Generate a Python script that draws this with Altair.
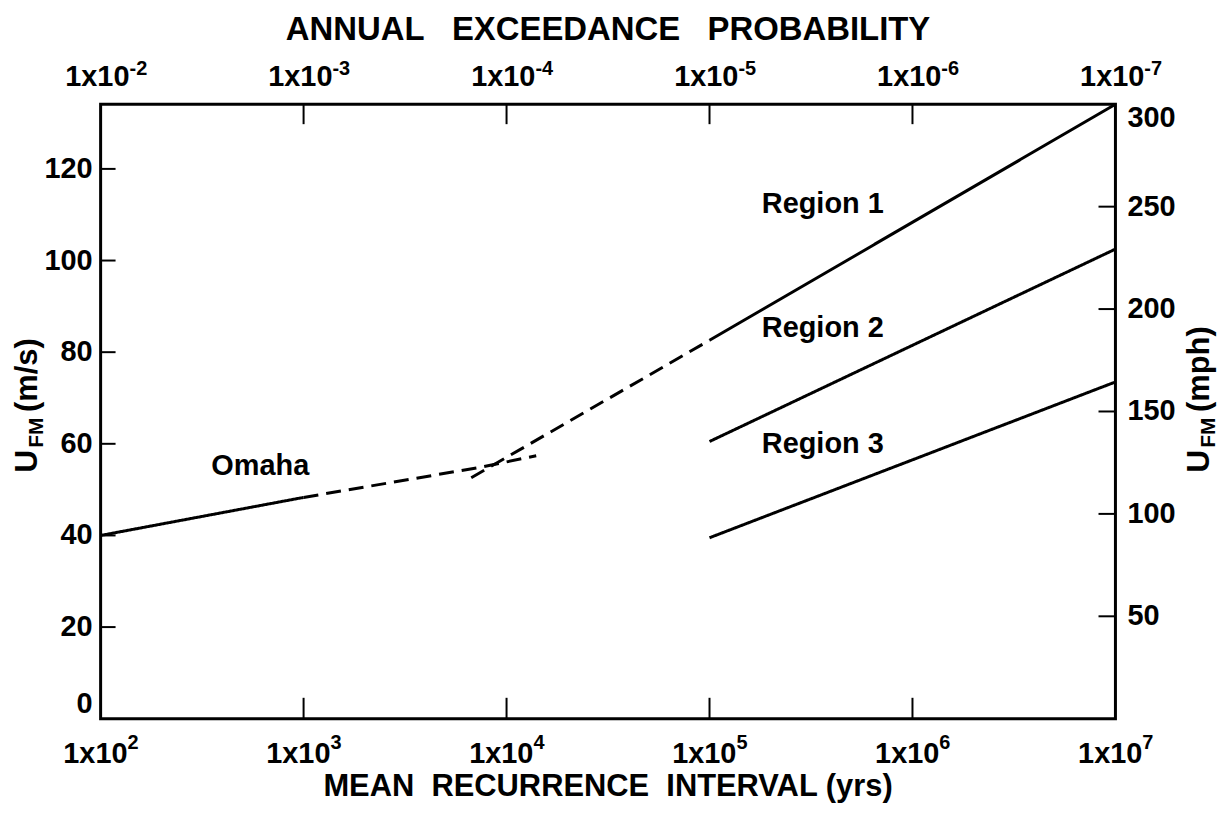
import altair as alt
import pandas as pd

# ---------------- data ----------------
W, H = 1019, 617
MPH_TO_MPS = 0.44704
YMAX = 300 * MPH_TO_MPS  # top of the axis = 300 mph

decades = [1e2, 1e3, 1e4, 1e5, 1e6, 1e7]
bottom_exp = ["2", "3", "4", "5", "6", "7"]
top_exp = ["-2", "-3", "-4", "-5", "-6", "-7"]
inner_decades = [1e3, 1e4, 1e5, 1e6]
left_ticks = [0, 20, 40, 60, 80, 100, 120]
left_inner_ticks = [20, 40, 60, 80, 100, 120]
mph_ticks = [50, 100, 150, 200, 250, 300]

omaha_x = [100, 1000]
omaha_y = [40.0, 48.3]
omaha_dash_x = [1000, 7500, 14000]
omaha_dash_y = [48.3, 54.9, 57.4]
trans_x = [6700, 100000]
trans_y = [52.6, 82.6]
r1_x = [1e5, 1e7]
r1_y = [82.6, 134.1]
r2_x = [1e5, 1e7]
r2_y = [60.5, 102.5]
r3_x = [1e5, 1e7]
r3_y = [39.5, 73.5]

label_text = ["Omaha", "Region 1", "Region 2", "Region 3"]
label_x = [351, 181000, 181000, 181000]
label_y = [55.2, 112.3, 85.2, 60.0]

# ---------------- tables ----------------
segs = [
    ("omaha", "solid", omaha_x, omaha_y),
    ("omaha_d", "dashed", omaha_dash_x, omaha_dash_y),
    ("trans", "dashed", trans_x, trans_y),
    ("r1", "solid", r1_x, r1_y),
    ("r2", "solid", r2_x, r2_y),
    ("r3", "solid", r3_x, r3_y),
]
rows = []
for name, style, xs, ys in segs:
    for x, y in zip(xs, ys):
        rows.append({"seg": name, "style": style, "x": x, "y": y})
lines_df = pd.DataFrame(rows)

dec_df = pd.DataFrame({"v": decades, "eb": bottom_exp, "et": top_exp})
inner_df = pd.DataFrame({"v": inner_decades})
left_df = pd.DataFrame({"y": left_inner_ticks})
left_lab_df = pd.DataFrame({"y": left_ticks})
mph_df = pd.DataFrame({"mph": mph_ticks})
lab_df = pd.DataFrame({"t": label_text, "x": label_x, "y": label_y})
one = pd.DataFrame({"a": [0]})

FONT = "Liberation Sans"
xscale = alt.Scale(type="log", domain=[100, 1e7], nice=False)
yscale = alt.Scale(domain=[0, YMAX], nice=False, zero=False)

def X(field):
    return alt.X(field, type="quantitative", scale=xscale, axis=None)

def Y(field):
    return alt.Y(field, type="quantitative", scale=yscale, axis=None)

lines = alt.Chart(lines_df).mark_line(color="black", strokeWidth=3).encode(
    x=X("x"),
    y=Y("y"),
    detail="seg:N",
    strokeDash=alt.StrokeDash("style:N", scale=alt.Scale(domain=["solid", "dashed"], range=[[1, 0], [15, 8]]), legend=None),
)

# inward ticks
bt = alt.Chart(inner_df).mark_rule(color="black", strokeWidth=2).encode(
    x=X("v"), y=alt.value(H), y2=alt.value(H - 21))
tt = alt.Chart(inner_df).mark_rule(color="black", strokeWidth=2).encode(
    x=X("v"), y=alt.value(0), y2=alt.value(20))
lt = alt.Chart(left_df).mark_rule(color="black", strokeWidth=2).encode(
    y=Y("y"), x=alt.value(0), x2=alt.value(15))
rt = alt.Chart(mph_df).transform_filter("datum.mph < 300").transform_calculate(
    mps=f"datum.mph * {MPH_TO_MPS}").mark_rule(color="black", strokeWidth=2).encode(
    y=Y("mps"), x=alt.value(W - 17), x2=alt.value(W))

# tick labels (x axes, with superscript exponents)
txt = dict(font=FONT, fontWeight="bold", color="black")
b_main = alt.Chart(dec_df).mark_text(align="right", baseline="alphabetic", fontSize=29, dx=27, **txt).encode(
    x=X("v"), y=alt.value(H + 44), text=alt.value("1x10"))
b_exp = alt.Chart(dec_df).mark_text(align="left", baseline="alphabetic", fontSize=20, dx=27, **txt).encode(
    x=X("v"), y=alt.value(H + 30), text="eb:N")
t_main = alt.Chart(dec_df).mark_text(align="right", baseline="alphabetic", fontSize=29, dx=29, **txt).encode(
    x=X("v"), y=alt.value(-18), text=alt.value("1x10"))
t_exp = alt.Chart(dec_df).mark_text(align="left", baseline="alphabetic", fontSize=20, dx=29, **txt).encode(
    x=X("v"), y=alt.value(-29), text="et:N")

# left axis labels (m/s)
l_mid = alt.Chart(left_lab_df).transform_filter("datum.y > 0").mark_text(
    align="right", baseline="middle", fontSize=29, **txt).encode(
    y=Y("y"), x=alt.value(-8), text="y:N")
l_bot = alt.Chart(left_lab_df).transform_filter("datum.y == 0").mark_text(
    align="right", baseline="bottom", fontSize=29, **txt).encode(
    y=Y("y"), x=alt.value(-8), text="y:N")

# right axis labels in mph
r_mid = alt.Chart(mph_df).transform_filter("datum.mph < 300").transform_calculate(
    mps=f"datum.mph * {MPH_TO_MPS}").mark_text(align="left", baseline="middle", fontSize=29, **txt).encode(
    y=Y("mps"), x=alt.value(W + 12), text="mph:N")
r_top = alt.Chart(mph_df).transform_filter("datum.mph == 300").transform_calculate(
    mps=f"datum.mph * {MPH_TO_MPS}").mark_text(align="left", baseline="top", fontSize=29, **txt).encode(
    y=Y("mps"), x=alt.value(W + 12), text="mph:N")

# curve labels
labels = alt.Chart(lab_df).mark_text(align="left", baseline="middle", fontSize=29, **txt).encode(
    x=X("x"), y=Y("y"), text="t:N")

# titles
top_title = alt.Chart(one).mark_text(align="center", baseline="alphabetic", fontSize=33, **txt).encode(
    x=alt.value(W / 2), y=alt.value(-65),
    text=alt.value("ANNUAL\u00a0\u00a0 EXCEEDANCE\u00a0\u00a0 PROBABILITY"))
bottom_title = alt.Chart(one).mark_text(align="center", baseline="alphabetic", fontSize=31, **txt).encode(
    x=alt.value(W / 2), y=alt.value(H + 78), text=alt.value("MEAN\u00a0 RECURRENCE\u00a0 INTERVAL (yrs)"))

# rotated y titles with subscript
def ytitle(xb, unit):
    u = alt.Chart(one).mark_text(angle=270, align="left", baseline="alphabetic", fontSize=32, **txt).encode(
        x=alt.value(xb), y=alt.value(370), text=alt.value("U"))
    fm = alt.Chart(one).mark_text(angle=270, align="left", baseline="alphabetic", fontSize=21, **txt).encode(
        x=alt.value(xb + 6), y=alt.value(345), text=alt.value("FM"))
    un = alt.Chart(one).mark_text(angle=270, align="left", baseline="alphabetic", fontSize=31, **txt).encode(
        x=alt.value(xb), y=alt.value(309), text=alt.value(unit))
    return [u, fm, un]

layers = [lines, bt, tt, lt, rt, b_main, b_exp, t_main, t_exp, l_mid, l_bot,
          r_mid, r_top, labels, top_title, bottom_title]
layers += ytitle(-64, "(m/s)")
layers += ytitle(W + 94, "(mph)")

chart = alt.layer(*layers).properties(
    width=W, height=H,
    autosize=alt.AutoSizeParams(type="none"),
    padding={"left": 93, "top": 95, "right": 108, "bottom": 85},
    background="white",
).configure(font=FONT).configure_view(stroke="black", strokeWidth=3)

chart.save("out.html", embed_options={"renderer": "svg", "actions": False})
